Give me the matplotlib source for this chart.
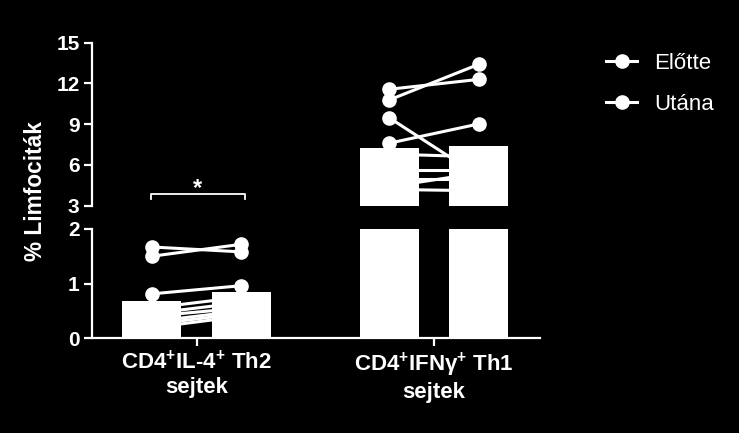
import numpy as np
import matplotlib
matplotlib.use("Agg")
import matplotlib.pyplot as plt
from matplotlib.lines import Line2D

plt.rcParams['font.family'] = ['Liberation Sans', 'DejaVu Sans']
plt.rcParams['mathtext.fontset'] = 'custom'
plt.rcParams['mathtext.rm'] = 'Liberation Sans:bold'
plt.rcParams['mathtext.it'] = 'Liberation Sans:bold'
plt.rcParams['mathtext.bf'] = 'Liberation Sans:bold'

# ---- data ----
categories = ["CD4$^{+}$IL-4$^{+}$ Th2\nsejtek", "CD4$^{+}$IFNγ$^{+}$ Th1\nsejtek"]
series_names = ["Előtte", "Utána"]
th2_before = [1.67, 1.50, 0.81, 0.55, 0.45, 0.40, 0.30, 0.25, 0.19]
th2_after = [1.58, 1.72, 0.96, 0.75, 0.65, 0.55, 0.50, 0.45, 0.40]
th1_before = [11.57, 10.78, 9.48, 7.60, 6.8, 5.6, 5.0, 4.4, 4.2]
th1_after = [12.30, 13.41, 5.2, 9.02, 6.6, 5.6, 5.0, 5.4, 4.1]
upper_ticks = [3, 6, 9, 12, 15]
lower_ticks = [0, 1, 2]
sig_label = "*"

groups = [(th2_before, th2_after), (th1_before, th1_after)]

W, H = 739, 433
fig = plt.figure(figsize=(W / 100, H / 100), dpi=100, facecolor='black')

left = 92 / W
right = 540 / W
ax_up = fig.add_axes([left, 1 - 205.7 / H, right - left, (205.7 - 42.7) / H])
ax_lo = fig.add_axes([left, 1 - 338 / H, right - left, (338 - 229) / H])

offset = 0.189
width = 0.249
xlim = (-0.441, 1.447)

for ax in (ax_up, ax_lo):
    ax.set_facecolor('black')
    for gi, (b, a) in enumerate(groups):
        xb, xa = gi - offset, gi + offset
        ax.bar([xb, xa], [np.mean(b), np.mean(a)], width=width, color='white', zorder=2)
        for vb, va in zip(b, a):
            ax.plot([xb, xa], [vb, va], color='white', lw=2.2, zorder=3,
                    marker='o', ms=9.5, mfc='white', mec='white', clip_on=True)
    ax.set_xlim(*xlim)
    for s in ax.spines.values():
        s.set_color('white')
        s.set_linewidth(1.6)
    ax.spines['top'].set_visible(False)
    ax.spines['right'].set_visible(False)
    ax.tick_params(colors='white', width=1.6, length=6, labelsize=15, pad=3)

ax_up.set_ylim(3, 15)
ax_up.set_yticks(upper_ticks)
ax_up.spines['bottom'].set_visible(False)
ax_up.set_xticks([])
ax_lo.set_ylim(0, 2)
ax_lo.set_yticks(lower_ticks)
ax_lo.set_xticks([0, 1])
ax_lo.set_xticklabels(categories, fontsize=16, fontweight='bold', color='white',
                      linespacing=1.2)
for ax in (ax_up, ax_lo):
    for lab in ax.get_yticklabels():
        lab.set_fontweight('bold')
        lab.set_color('white')

# significance bracket
bx0, bx1 = -0.193, 0.203
ax_up.plot([bx0, bx0, bx1, bx1], [3.47, 3.86, 3.86, 3.47], color='white', lw=1.3, clip_on=False)
ax_up.text((bx0 + bx1) / 2, 4.3, sig_label, color='white', fontsize=17, fontweight='bold',
           ha='center', va='center')

fig.text(36 / W, 1 - 191 / H, "% Limfociták", rotation=90, color='white', fontsize=16.3,
         fontweight='bold', ha='center', va='center')

handles = [Line2D([], [], color='white', lw=2.2, marker='o', ms=9.5, mfc='white', mec='white')
           for _ in series_names]
leg = fig.legend(handles, series_names, loc='upper left', bbox_to_anchor=(606 / W, 1 - 53 / H),
                 frameon=False, fontsize=16, labelspacing=0.9, handlelength=1.4,
                 handletextpad=0.75, borderaxespad=0, borderpad=0)
for t in leg.get_texts():
    t.set_color('white')

fig.savefig("out.png", dpi=100, facecolor='black')
